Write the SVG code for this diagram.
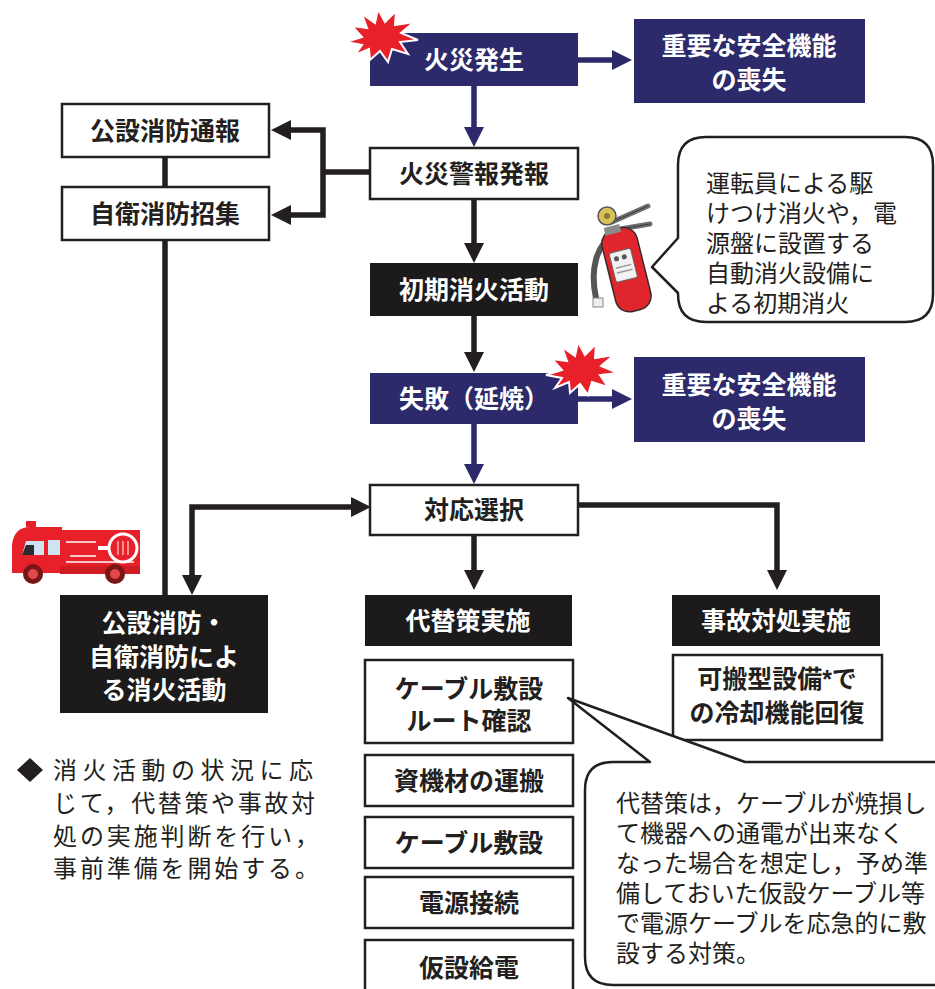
<svg xmlns="http://www.w3.org/2000/svg" width="935" height="989" viewBox="0 0 935 989">
  <style>
    .nv { fill: #2d2a6b; }
    .bk { fill: #1c1a1a; }
    .wt { fill: #ffffff; stroke: #231f20; stroke-width: 2.5; }
    .lb { font-family: "Liberation Sans", "Noto Sans CJK JP", sans-serif; font-weight: 700; font-size: 25px; text-anchor: middle; dominant-baseline: central; }
    .lw { fill: #ffffff; }
    .ld { fill: #231f20; }
    .tx { font-family: "Liberation Sans", "Noto Sans CJK JP", sans-serif; font-size: 24px; fill: #231f20; dominant-baseline: central; }
    .cn { fill: none; stroke: #231f20; stroke-width: 5.5; }
    .cv { fill: none; stroke: #2d2a6b; stroke-width: 5.5; }
    .bub { fill: #ffffff; stroke: #231f20; stroke-width: 2.5; stroke-linejoin: round; }
  </style>
  <defs>
    <marker id="ahBk" markerUnits="userSpaceOnUse" viewBox="0 0 20 20" markerWidth="20" markerHeight="20" refX="1" refY="10" orient="auto-start-reverse">
      <path d="M0,0 L20,10 L0,20 z" fill="#231f20"/>
    </marker>
    <marker id="ahNv" markerUnits="userSpaceOnUse" viewBox="0 0 20 20" markerWidth="20" markerHeight="20" refX="1" refY="10" orient="auto-start-reverse">
      <path d="M0,0 L20,10 L0,20 z" fill="#2d2a6b"/>
    </marker>
    <!-- red flash mark, centred on (381,36) -->
    <polygon id="burst" points="346,42 362,37 352,26 367,28 362,14 375,23 378,9 385,22 396,11 395,25 414,22 401,33 418,40 400,42 408,54 392,49 388,62 380,51 370,60 369,49 355,55 362,45" fill="#e8202a" stroke="#ffffff" stroke-width="2" stroke-linejoin="miter"/>
  </defs>

  <!-- connectors -->
  <g id="connectors">
    <path class="cv" d="M578,60 H613" marker-end="url(#ahNv)"/>
    <path class="cv" d="M474,86 V128" marker-end="url(#ahNv)"/>
    <path class="cn" d="M474,199 V244" marker-end="url(#ahBk)"/>
    <path class="cn" d="M474,316 V353" marker-end="url(#ahBk)"/>
    <path class="cv" d="M578,399 H613" marker-end="url(#ahNv)"/>
    <path class="cv" d="M474,424 V465" marker-end="url(#ahNv)"/>
    <path class="cn" d="M370,172 H323"/>
    <path class="cn" d="M290,130 H323 V215 H290" marker-start="url(#ahBk)" marker-end="url(#ahBk)"/>
    <path class="cn" d="M165,157 V187 M165,240 V596"/>
    <path class="cn" d="M192,576 V507 H352" marker-start="url(#ahBk)" marker-end="url(#ahBk)"/>
    <path class="cn" d="M578,505 H777 V571" marker-end="url(#ahBk)"/>
    <path class="cn" d="M474,535 V571" marker-end="url(#ahBk)"/>
  </g>

  <!-- main flow -->
  <g id="n-fire">
    <rect class="nv" x="370" y="33" width="208" height="53"/>
    <text class="lb lw" x="474" y="60">火災発生</text>
  </g>
  <use href="#burst"/>
  <g id="n-loss1">
    <rect class="nv" x="634" y="19" width="231" height="84"/>
    <text class="lb lw" x="749" y="46">重要な安全機能</text>
    <text class="lb lw" x="749" y="80">の喪失</text>
  </g>
  <g id="n-alarm">
    <rect class="wt" x="370" y="148" width="208" height="51"/>
    <text class="lb ld" x="474" y="174">火災警報発報</text>
  </g>
  <g id="n-report">
    <rect class="wt" x="62" y="104" width="207" height="53"/>
    <text class="lb ld" x="165" y="131">公設消防通報</text>
  </g>
  <g id="n-call">
    <rect class="wt" x="62" y="187" width="207" height="53"/>
    <text class="lb ld" x="165" y="214">自衛消防招集</text>
  </g>
  <g id="n-initial">
    <rect class="bk" x="370" y="263" width="208" height="53"/>
    <text class="lb lw" x="474" y="290">初期消火活動</text>
  </g>
  <g id="n-fail">
    <rect class="nv" x="370" y="373" width="208" height="51"/>
    <text class="lb lw" x="474" y="399">失敗（延焼）</text>
  </g>
  <g id="n-loss2">
    <rect class="nv" x="634" y="357" width="231" height="85"/>
    <text class="lb lw" x="749" y="385">重要な安全機能</text>
    <text class="lb lw" x="749" y="419">の喪失</text>
  </g>
  <use href="#burst" transform="translate(200,333)"/>
  <g id="n-select">
    <rect class="wt" x="370" y="485" width="208" height="50"/>
    <text class="lb ld" x="474" y="510">対応選択</text>
  </g>
  <g id="n-brigade">
    <rect class="bk" x="60" y="595" width="208" height="118"/>
    <text class="lb lw" x="164" y="623">公設消防・</text>
    <text class="lb lw" x="164" y="657">自衛消防によ</text>
    <text class="lb lw" x="164" y="690">る消火活動</text>
  </g>
  <g id="n-alt">
    <rect class="bk" x="365" y="595" width="207" height="51"/>
    <text class="lb lw" x="468" y="621">代替策実施</text>
  </g>
  <g id="n-accident">
    <rect class="bk" x="672" y="595" width="208" height="51"/>
    <text class="lb lw" x="776" y="621">事故対処実施</text>
  </g>
  <g id="n-portable">
    <rect class="wt" x="673" y="655" width="209" height="85"/>
    <text class="lb ld" x="777" y="679">可搬型設備*で</text>
    <text class="lb ld" x="777" y="713">の冷却機能回復</text>
  </g>
  <g id="n-route">
    <rect class="wt" x="365" y="660" width="208" height="83"/>
    <text class="lb ld" x="469" y="689">ケーブル敷設</text>
    <text class="lb ld" x="469" y="721">ルート確認</text>
  </g>
  <g id="n-carry">
    <rect class="wt" x="365" y="755" width="208" height="51"/>
    <text class="lb ld" x="469" y="781">資機材の運搬</text>
  </g>
  <g id="n-lay">
    <rect class="wt" x="365" y="817" width="208" height="51"/>
    <text class="lb ld" x="469" y="843">ケーブル敷設</text>
  </g>
  <g id="n-connect">
    <rect class="wt" x="365" y="877" width="208" height="51"/>
    <text class="lb ld" x="469" y="903">電源接続</text>
  </g>
  <g id="n-supply">
    <rect class="wt" x="365" y="940" width="208" height="62"/>
    <text class="lb ld" x="469" y="968">仮設給電</text>
  </g>

  <!-- speech bubble: initial extinguishing -->
  <g id="bubble-initial">
    <path class="bub" d="M706,137 H905 Q933,137 933,165 V294 Q933,322 905,322 H706 Q678,322 678,294 V293 L652,267 L678,238 V165 Q678,137 706,137 Z"/>
    <text class="tx" x="706" y="183" font-size="26">運転員による駆</text>
    <text class="tx" x="706" y="213" font-size="26">けつけ消火や，電</text>
    <text class="tx" x="706" y="243" font-size="26">源盤に設置する</text>
    <text class="tx" x="706" y="273" font-size="26">自動消火設備に</text>
    <text class="tx" x="706" y="303" font-size="26">よる初期消火</text>
  </g>

  <!-- speech bubble: alternative measure note -->
  <g id="bubble-alt">
    <path class="bub" d="M613,762 H650 L568,698 L745,762 H960 V985 H613 Q585,985 585,957 V790 Q585,762 613,762 Z"/>
    <text class="tx" x="616" y="803">代替策は，ケーブルが焼損し</text>
    <text class="tx" x="616" y="833">て機器への通電が出来なく</text>
    <text class="tx" x="616" y="863">なった場合を想定し，予め準</text>
    <text class="tx" x="616" y="893">備しておいた仮設ケーブル等</text>
    <text class="tx" x="616" y="923">で電源ケーブルを応急的に敷</text>
    <text class="tx" x="616" y="953">設する対策。</text>
  </g>

  <!-- side note -->
  <g id="note">
    <polygon points="30,758 43,770 30,782 17,770" fill="#231f20"/>
    <text class="tx" x="53" y="770" font-size="27" textLength="260" lengthAdjust="spacing">消火活動の状況に応</text>
    <text class="tx" x="53" y="803" font-size="27" textLength="262" lengthAdjust="spacing">じて，代替策や事故対</text>
    <text class="tx" x="53" y="836" font-size="27" textLength="266" lengthAdjust="spacing">処の実施判断を行い，</text>
    <text class="tx" x="53" y="868" font-size="27" textLength="266" lengthAdjust="spacing">事前準備を開始する。</text>
  </g>

  <!-- fire extinguisher -->
  <g id="extinguisher">
    <path d="M612,222 L648,206 M614,230 L650,224" stroke="#6d6e70" stroke-width="5" stroke-linecap="round" fill="none"/>
    <path d="M612,222 L648,206 M614,230 L650,224" stroke="#3a3a3a" stroke-width="1" fill="none"/>
    <path d="M614,236 C596,244 590,270 596,298" stroke="#555" stroke-width="6" fill="none" stroke-linecap="round"/>
    <g transform="rotate(-14 625 268)">
      <rect x="608" y="228" width="36" height="84" rx="14" fill="#e0262c" stroke="#3a2a2a" stroke-width="1.5"/>
      <rect x="613" y="250" width="22" height="30" rx="2" fill="#f2f2f2" stroke="#666" stroke-width="1"/>
      <circle cx="619" cy="257" r="2.5" fill="#555"/>
      <circle cx="627" cy="257" r="2.5" fill="#555"/>
      <path d="M616,266 H632 M616,271 H632" stroke="#999" stroke-width="1.5"/>
      <rect x="614" y="224" width="16" height="8" fill="#8a8a8a"/>
    </g>
    <circle cx="607" cy="216" r="9" fill="#d9c25a" stroke="#555" stroke-width="1.5"/>
    <circle cx="607" cy="216" r="3" fill="#8a7a2a"/>
    <rect x="593" y="298" width="10" height="9" fill="#eee" stroke="#888" stroke-width="1"/>
  </g>

  <!-- fire engine -->
  <g id="firetruck">
    <rect x="26" y="521" width="10" height="6" fill="#e8202a"/>
    <path d="M12,560 V545 Q14,527 30,527 H62 V573 H12 Z" fill="#e8202a"/>
    <rect x="60" y="530" width="80" height="44" fill="#e8202a"/>
    <path d="M22,555 L26,541 H44 V555 Z" fill="#cfe3f3"/>
    <path d="M22,555 L26,545 H34 V555 Z" fill="#2b2b2b"/>
    <rect x="48" y="540" width="12" height="15" fill="#cfe3f3"/>
    <path d="M66,542 H96 M66,562 H134 M70,556 H96" stroke="#f7c6c6" stroke-width="2"/>
    <path d="M98,548 H108" stroke="#ffffff" stroke-width="4"/>
    <circle cx="123" cy="548" r="14" fill="#e8202a" stroke="#ffffff" stroke-width="3"/>
    <path d="M118,541 V555 M123,541 V555 M128,541 V555" stroke="#ffb3b3" stroke-width="1.5"/>
    <rect x="60" y="566" width="80" height="8" fill="#cf1c22"/>
    <circle cx="33" cy="574" r="10" fill="#7a1518"/>
    <circle cx="33" cy="574" r="5" fill="#e0484c"/>
    <circle cx="115" cy="574" r="10" fill="#7a1518"/>
    <circle cx="115" cy="574" r="5" fill="#e0484c"/>
  </g>
</svg>
